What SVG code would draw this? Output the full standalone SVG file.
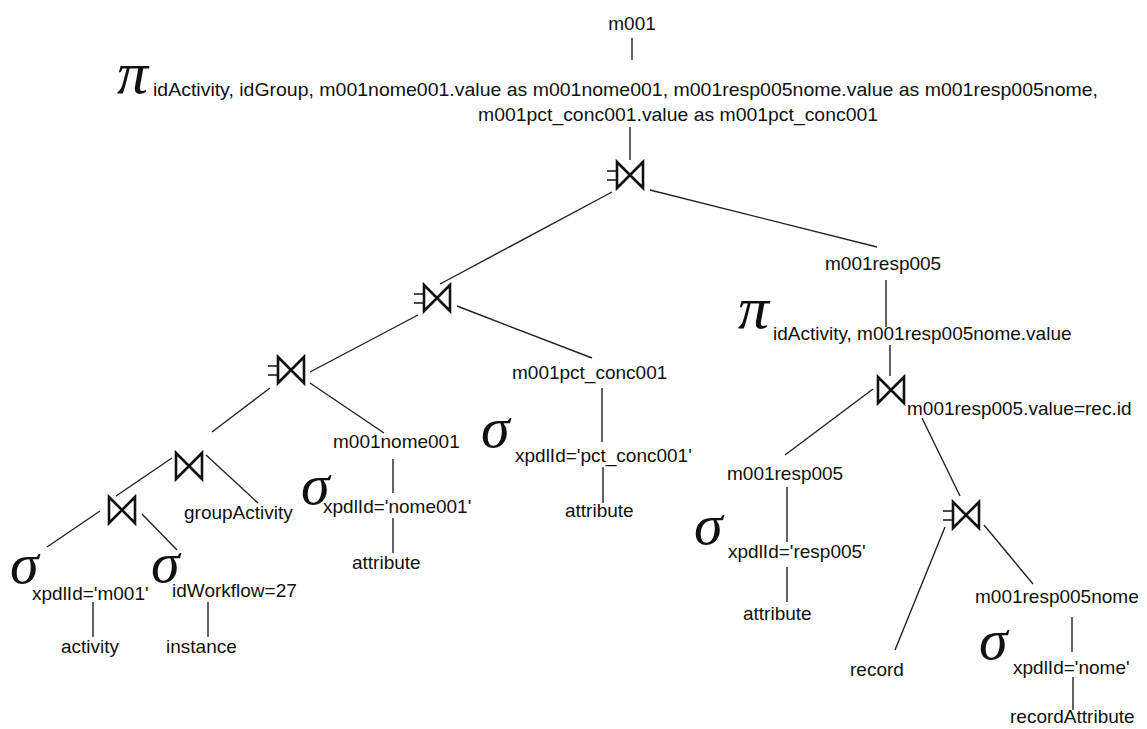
<svg xmlns="http://www.w3.org/2000/svg" width="1147" height="729" viewBox="0 0 1147 729">
  <style>
    .lbl { font-family: "Liberation Sans", Arial, sans-serif; font-size: 19px; fill: #111; }
    .op { font-family: "Liberation Serif", "Times New Roman", serif; font-style: italic; font-size: 58px; fill: #111; }
    .pi { font-size: 60px; }
    .edge { stroke: #222; stroke-width: 1.4; fill: none; }
    .bow { stroke: #111; stroke-width: 2.6; fill: none; stroke-linejoin: miter; }
    .tick { stroke: #111; stroke-width: 1.6; fill: none; }
  </style>
  <defs>
    <!-- natural join bow-tie, centred on the origin -->
    <g id="join">
      <path class="bow" d="M-13,-13 L13,13 L13,-13 L-13,13 Z"/>
    </g>
    <!-- outer join variant with the two marks on the left -->
    <g id="outerjoin">
      <path class="bow" d="M-13,-13 L13,13 L13,-13 L-13,13 Z"/>
      <path class="tick" d="M-23,-4 H-13 M-23,5 H-13"/>
    </g>
  </defs>
  <rect width="1147" height="729" fill="#fff"/>

  <g id="connectors">
    <line class="edge" x1="632" y1="38" x2="632" y2="60"/>
    <line class="edge" x1="630" y1="127" x2="630" y2="160"/>
    <line class="edge" x1="612" y1="192" x2="440" y2="284"/>
    <line class="edge" x1="650" y1="190" x2="877" y2="247"/>
    <line class="edge" x1="418" y1="315" x2="310" y2="372"/>
    <line class="edge" x1="457" y1="306" x2="592" y2="358"/>
    <line class="edge" x1="270" y1="388" x2="212" y2="432"/>
    <line class="edge" x1="310" y1="383" x2="384" y2="433"/>
    <line class="edge" x1="172" y1="458" x2="116" y2="496"/>
    <line class="edge" x1="206" y1="455" x2="258" y2="503"/>
    <line class="edge" x1="100" y1="511" x2="47" y2="547"/>
    <line class="edge" x1="142" y1="514" x2="177" y2="550"/>
    <line class="edge" x1="93" y1="602" x2="93" y2="637"/>
    <line class="edge" x1="208" y1="602" x2="208" y2="637"/>
    <line class="edge" x1="393" y1="459" x2="393" y2="493"/>
    <line class="edge" x1="393" y1="518" x2="393" y2="553"/>
    <line class="edge" x1="602" y1="388" x2="602" y2="442"/>
    <line class="edge" x1="603" y1="467" x2="603" y2="503"/>
    <line class="edge" x1="886" y1="280" x2="886" y2="327"/>
    <line class="edge" x1="890" y1="345" x2="890" y2="376"/>
    <line class="edge" x1="873" y1="389" x2="785" y2="455"/>
    <line class="edge" x1="922" y1="418" x2="960" y2="496"/>
    <line class="edge" x1="787" y1="487" x2="787" y2="542"/>
    <line class="edge" x1="787" y1="567" x2="787" y2="602"/>
    <line class="edge" x1="945" y1="527" x2="895" y2="650"/>
    <line class="edge" x1="984" y1="525" x2="1033" y2="584"/>
    <line class="edge" x1="1072" y1="617" x2="1072" y2="652"/>
    <line class="edge" x1="1073" y1="677" x2="1073" y2="710"/>
  </g>

  <g id="m001">
    <text class="lbl" x="632" y="30" text-anchor="middle">m001</text>
  </g>

  <g id="project-top">
    <text class="op pi" x="117" y="93" textLength="31" lengthAdjust="spacingAndGlyphs">π</text>
    <text class="lbl" x="153" y="96" textLength="945" lengthAdjust="spacingAndGlyphs">idActivity, idGroup, m001nome001.value as m001nome001, m001resp005nome.value as m001resp005nome,</text>
    <text class="lbl" x="478" y="121" textLength="400" lengthAdjust="spacingAndGlyphs">m001pct_conc001.value as m001pct_conc001</text>
  </g>

  <g id="join-top"><use href="#outerjoin" x="630" y="175"/></g>
  <g id="join-2"><use href="#outerjoin" x="437" y="298"/></g>
  <g id="join-3"><use href="#outerjoin" x="291" y="370"/></g>
  <g id="join-4"><use href="#join" x="189" y="466"/></g>
  <g id="join-5"><use href="#join" x="122" y="510"/></g>

  <g id="select-m001">
    <text class="op" x="10" y="583">σ</text>
    <text class="lbl" x="32" y="600">xpdlId='m001'</text>
  </g>
  <g id="activity">
    <text class="lbl" x="61" y="653">activity</text>
  </g>
  <g id="select-workflow">
    <text class="op" x="151" y="582">σ</text>
    <text class="lbl" x="172" y="597">idWorkflow=27</text>
  </g>
  <g id="instance">
    <text class="lbl" x="166" y="653">instance</text>
  </g>
  <g id="groupActivity">
    <text class="lbl" x="184" y="519">groupActivity</text>
  </g>

  <g id="m001nome001">
    <text class="lbl" x="333" y="448">m001nome001</text>
  </g>
  <g id="select-nome001">
    <text class="op" x="301" y="504">σ</text>
    <text class="lbl" x="323" y="513">xpdlId='nome001'</text>
  </g>
  <g id="attribute-nome001">
    <text class="lbl" x="352" y="569">attribute</text>
  </g>

  <g id="m001pct_conc001">
    <text class="lbl" x="512" y="379">m001pct_conc001</text>
  </g>
  <g id="select-pct_conc001">
    <text class="op" x="481" y="447">σ</text>
    <text class="lbl" x="515" y="462">xpdlId='pct_conc001'</text>
  </g>
  <g id="attribute-pct_conc001">
    <text class="lbl" x="565" y="517">attribute</text>
  </g>

  <g id="m001resp005">
    <text class="lbl" x="825" y="270">m001resp005</text>
  </g>
  <g id="project-resp005">
    <text class="op pi" x="738" y="328" textLength="31" lengthAdjust="spacingAndGlyphs">π</text>
    <text class="lbl" x="773" y="340">idActivity, m001resp005nome.value</text>
  </g>
  <g id="join-resp005">
    <use href="#join" x="891" y="390"/>
    <text class="lbl" x="907" y="415">m001resp005.value=rec.id</text>
  </g>

  <g id="m001resp005-sub">
    <text class="lbl" x="727" y="480">m001resp005</text>
  </g>
  <g id="select-resp005">
    <text class="op" x="694" y="544">σ</text>
    <text class="lbl" x="728" y="558">xpdlId='resp005'</text>
  </g>
  <g id="attribute-resp005">
    <text class="lbl" x="743" y="620">attribute</text>
  </g>

  <g id="join-record"><use href="#outerjoin" x="966" y="515"/></g>
  <g id="record">
    <text class="lbl" x="850" y="676">record</text>
  </g>
  <g id="m001resp005nome">
    <text class="lbl" x="975" y="603">m001resp005nome</text>
  </g>
  <g id="select-nome">
    <text class="op" x="979" y="659">σ</text>
    <text class="lbl" x="1013" y="674">xpdlId='nome'</text>
  </g>
  <g id="recordAttribute">
    <text class="lbl" x="1010" y="723">recordAttribute</text>
  </g>
</svg>
